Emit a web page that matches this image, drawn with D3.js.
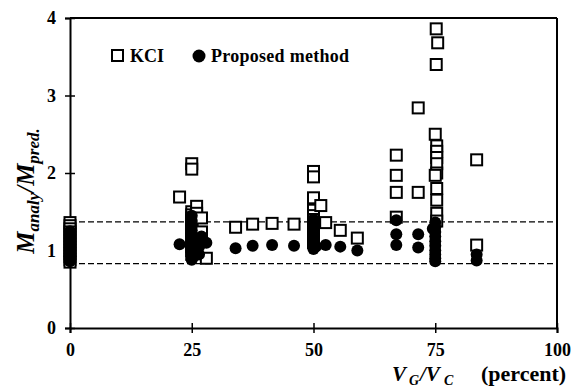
<!DOCTYPE html>
<html><head><meta charset="utf-8">
<script src="https://cdn.jsdelivr.net/npm/d3@7"></script>
<style>body{margin:0;background:#fff}svg{display:block}text{font-family:"Liberation Serif","Times New Roman",serif;fill:#000}</style>
</head><body><svg id="c" width="582" height="387"></svg>
<script>
const xTicks = [0, 25, 50, 75, 100];
const yTicks = [0, 1, 2, 3, 4];
const refLines = [1.37, 0.83];
const kciX = [0,0,0,0,0,0,0,0,0,0,0,0,0,0,
  22.5,25,25,25,25,25,25,25,25,25,25,25,25,25,25,25,26,26,27,27,28,
  34,37.5,41.5,46,
  50,50,50,50,50,50,50,50,50,50,50,50,51.5,52.5,55.5,59,
  67,67,67,67,71.5,71.5,
  75.2,75.5,75.2,75,75.3,75.3,75.3,75.3,75.3,75,75.3,75.3,75.3,75.3,83.5,83.5];
const kciY = [1.36,1.32,1.28,1.24,1.2,1.16,1.12,1.08,1.04,1.0,0.96,0.92,0.88,0.85,
  1.69,2.12,2.05,1.5,1.46,1.42,1.38,1.34,1.3,1.25,1.2,1.15,1.1,1.05,1.0,0.95,1.57,1.48,1.42,1.24,0.9,
  1.3,1.34,1.35,1.34,
  2.02,1.95,1.68,1.52,1.45,1.4,1.35,1.3,1.25,1.2,1.15,1.1,1.58,1.36,1.26,1.16,
  2.23,1.97,1.75,1.43,2.84,1.75,
  3.86,3.68,3.4,2.5,2.35,2.28,2.2,2.12,2.0,1.97,1.8,1.65,1.48,1.38,2.17,1.07];
const propX = [0,0,0,0,0,0,0,0,0,
  22.5,25,25,25,25,25,25,25,25,25,25,25,26.5,26.5,27,28,
  34,37.5,41.5,46,
  50,50,50,50,50,50,50,50.5,52.5,55.5,59,
  67,67,67,71.5,71.5,
  75,75,75,75,75,75,75,75,75,75,74.5,83.5,83.5];
const propY = [1.25,1.2,1.15,1.1,1.05,1.0,0.95,0.9,0.86,
  1.08,1.45,1.38,1.32,1.26,1.2,1.14,1.08,1.02,0.96,0.92,0.88,1.05,0.95,1.18,1.1,
  1.03,1.06,1.07,1.06,
  1.4,1.32,1.25,1.18,1.12,1.06,1.02,1.05,1.07,1.05,1.0,
  1.39,1.21,1.07,1.21,1.04,
  1.36,1.3,1.24,1.18,1.12,1.06,1.0,0.95,0.9,0.86,1.28,0.95,0.87];

const svg = d3.select("#c");
const x = d3.scaleLinear().domain([0,100]).range([70,557]);
const y = d3.scaleLinear().domain([0,4]).range([328,18]);

svg.append("line").attr("x1",x(0)).attr("x2",x(100)).attr("y1",y(4)).attr("y2",y(4)).attr("stroke","#000").attr("stroke-width",2);
svg.append("line").attr("x1",x(100)).attr("x2",x(100)).attr("y1",y(4)).attr("y2",y(0)).attr("stroke","#000").attr("stroke-width",2);

const xAxis = svg.append("g").attr("transform",`translate(0,${y(0)})`)
  .call(d3.axisBottom(x).tickValues(xTicks).tickFormat(d3.format("d")).tickSize(5).tickPadding(10));
const yAxis = svg.append("g").attr("transform",`translate(${x(0)},0)`)
  .call(d3.axisLeft(y).tickValues(yTicks).tickFormat(d3.format("d")).tickSize(5).tickPadding(9));
[xAxis,yAxis].forEach(g=>{
  g.select(".domain").attr("stroke-width",2).attr("stroke","#000");
  g.selectAll(".tick line").attr("stroke-width",1.5).attr("stroke","#000");
  g.selectAll(".tick text").attr("font-size",18).attr("font-weight","bold").attr("font-family","Liberation Serif, serif").attr("fill","#000");
});
xAxis.selectAll(".tick line").attr("y1",-5).attr("y2",5);
yAxis.selectAll(".tick line").attr("x1",-5).attr("x2",5);

svg.selectAll(".ref").data(refLines).enter().append("line")
  .attr("x1",x(0)).attr("x2",x(100)).attr("y1",d=>y(d)).attr("y2",d=>y(d))
  .attr("stroke","#000").attr("stroke-width",1.2).attr("stroke-dasharray","6,3");

const s = 11;
svg.append("g").selectAll("rect").data(kciX.map((v,i)=>[v,kciY[i]])).enter().append("rect")
  .attr("x",d=>x(d[0])-s/2).attr("y",d=>y(d[1])-s/2).attr("width",s).attr("height",s)
  .attr("fill","#fff").attr("stroke","#000").attr("stroke-width",2);
svg.append("g").selectAll("circle").data(propX.map((v,i)=>[v,propY[i]])).enter().append("circle")
  .attr("cx",d=>x(d[0])).attr("cy",d=>y(d[1])).attr("r",6).attr("fill","#000");

// legend
svg.append("rect").attr("x",112).attr("y",50).attr("width",11).attr("height",11).attr("fill","#fff").attr("stroke","#000").attr("stroke-width",2);
svg.append("text").attr("x",130).attr("y",62).attr("font-size",18).attr("font-weight","bold").text("KCI");
svg.append("circle").attr("cx",199).attr("cy",56).attr("r",6.5).attr("fill","#000");
svg.append("text").attr("x",211).attr("y",62).attr("font-size",18).attr("font-weight","bold").attr("textLength",138).text("Proposed method");

// y label
const yl = svg.append("text").attr("transform","translate(34,191) rotate(-90)").attr("text-anchor","middle")
  .attr("font-weight","bold").attr("font-style","italic").attr("font-size",25);
yl.append("tspan").text("M");
yl.append("tspan").attr("font-size",17).attr("dy",5).text("analy");
yl.append("tspan").attr("dy",-5).text("/M");
yl.append("tspan").attr("font-size",17).attr("dy",5).text("pred.");

// x label
const xl = svg.append("text").attr("y",381).attr("font-weight","bold").attr("font-size",21);
xl.append("tspan").attr("x",392).attr("font-style","italic").text("V");
xl.append("tspan").attr("x",409).attr("font-style","italic").attr("font-size",14).attr("dy",4).text("G");
xl.append("tspan").attr("x",420).attr("font-style","italic").attr("dy",-4).text("/V");
xl.append("tspan").attr("x",444).attr("font-style","italic").attr("font-size",14).attr("dy",4).text("C");
xl.append("tspan").attr("x",481).attr("dy",-4).attr("font-size",22).text("(percent)");
</script></body></html>
